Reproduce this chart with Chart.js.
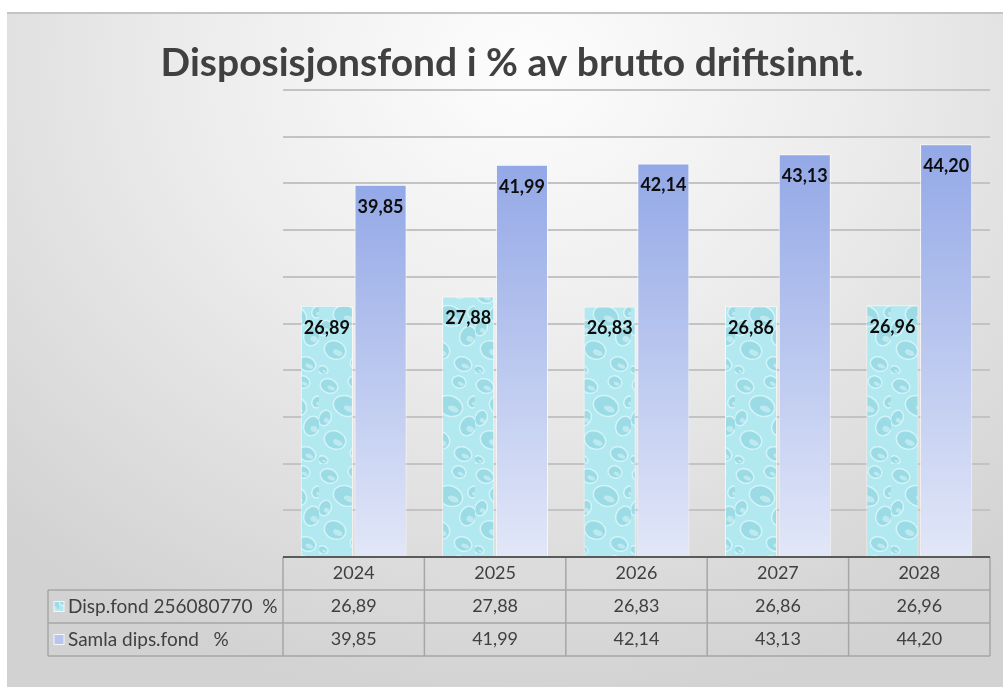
<!DOCTYPE html>
<html>
<head>
<meta charset="utf-8">
<script src="https://cdn.jsdelivr.net/npm/chart.js@4.4.0/dist/chart.umd.min.js"></script>
<style>
  html, body { margin: 0; padding: 0; background: #ffffff; }
  #wrap {
    position: absolute; left: 7px; top: 12px; width: 996px; height: 675px;
    background: radial-gradient(ellipse 75% 95% at 52% 8%, #fdfdfd 0%, #ececec 45%, #d2d2d2 100%);
    border-top: 2px solid #c4c4c4;
    box-sizing: border-box;
  }
  canvas { display: block; }
</style>
</head>
<body>
<div id="wrap"><canvas id="chart" width="996" height="673"></canvas></div>
<script>
// data
const years = ['2024', '2025', '2026', '2027', '2028'];
const dispFond = [26.89, 27.88, 26.83, 26.86, 26.96];
const samlaFond = [39.85, 41.99, 42.14, 43.13, 44.20];
const seriesNames = ['Disp.fond 256080770  %', 'Samla dips.fond   %'];
const chartTitle = 'Disposisjonsfond i % av brutto driftsinnt.';

const fmt = (v) => v.toFixed(2).replace('.', ',');

// vanndrape-mønster for første serie
const makeDropPattern = () => {
  const c = document.createElement('canvas');
  c.width = 52; c.height = 90;
  const g = c.getContext('2d');
  g.fillStyle = '#b2e8ef';
  g.fillRect(0, 0, 52, 90);
  const drops = [[10, 12, 9, 7], [36, 8, 7, 6], [27, 32, 13, 10], [6, 44, 6, 8], [45, 52, 8, 10],
                 [16, 66, 11, 9], [40, 80, 9, 7], [4, 86, 5, 4], [50, 28, 5, 6]];
  drops.forEach(([x, y, rx, ry]) => {
    g.beginPath();
    g.ellipse(x, y, rx, ry, 0.4, 0, Math.PI * 2);
    g.fillStyle = 'rgba(120, 200, 214, 0.4)';
    g.fill();
    g.lineWidth = 1.5;
    g.strokeStyle = 'rgba(235, 252, 255, 0.65)';
    g.stroke();
    g.beginPath();
    g.ellipse(x + rx * 0.25, y + ry * 0.3, rx * 0.45, ry * 0.3, 0.4, 0, Math.PI * 2);
    g.fillStyle = 'rgba(240, 255, 255, 0.4)';
    g.fill();
  });
  return c;
};

const ctx = document.getElementById('chart').getContext('2d');
const dropPattern = ctx.createPattern(makeDropPattern(), 'repeat');

// gradient per søyle for andre serie
const blueGradient = (context) => {
  const chart = context.chart;
  const area = chart.chartArea;
  if (!area) return '#a9b8ec';
  const top = chart.scales.y.getPixelForValue(context.raw);
  const grad = chart.ctx.createLinearGradient(0, top, 0, area.bottom);
  grad.addColorStop(0, '#93a8e6');
  grad.addColorStop(1, '#e2e7f8');
  return grad;
};

// tittel midtstilt over hele flaten
const titleText = {
  id: 'titleText',
  afterDraw(chart) {
    const c = chart.ctx;
    c.save();
    c.font = 'bold 39px Lato, "Open Sans", sans-serif';
    c.fillStyle = '#404040';
    c.textAlign = 'center';
    c.textBaseline = 'middle';
    c.fillText(chartTitle, 505, 49);
    c.restore();
  }
};

// verdietiketter inne i toppen av søylene
const valueLabels = {
  id: 'valueLabels',
  afterDatasetsDraw(chart) {
    const c = chart.ctx;
    c.save();
    c.font = 'bold 18px Lato, "Open Sans", sans-serif';
    c.fillStyle = '#0d0d0d';
    c.textAlign = 'center';
    c.textBaseline = 'middle';
    chart.data.datasets.forEach((ds, i) => {
      chart.getDatasetMeta(i).data.forEach((bar, j) => {
        c.fillText(fmt(ds.data[j]), bar.x, bar.y + 22);
      });
    });
    c.restore();
  }
};

// datatabell under grafen
const dataTable = {
  id: 'dataTable',
  afterDraw(chart) {
    const c = chart.ctx;
    const x = chart.scales.x;
    const area = chart.chartArea;
    const colW = x.width / years.length;
    const rowH = 33;
    const top = area.bottom;
    const labelLeft = 41;
    c.save();
    c.strokeStyle = '#a6a6a6';
    c.lineWidth = 1.5;
    for (let r = 1; r <= 3; r++) {
      c.beginPath();
      c.moveTo(labelLeft, top + r * rowH);
      c.lineTo(area.right, top + r * rowH);
      c.stroke();
    }
    for (let i = 0; i <= years.length; i++) {
      const lx = area.left + i * colW;
      c.beginPath();
      c.moveTo(lx, top);
      c.lineTo(lx, top + 3 * rowH);
      c.stroke();
    }
    c.beginPath();
    c.moveTo(labelLeft, top + rowH);
    c.lineTo(labelLeft, top + 3 * rowH);
    c.stroke();
    // akselinje
    c.strokeStyle = '#5a5a5a';
    c.lineWidth = 2;
    c.beginPath();
    c.moveTo(area.left, top);
    c.lineTo(area.right, top);
    c.stroke();

    c.font = '18px Lato, "Open Sans", sans-serif';
    c.fillStyle = '#404040';
    c.textBaseline = 'middle';
    c.textAlign = 'center';
    years.forEach((yr, i) => {
      const cx = x.getPixelForValue(i);
      c.fillText(yr, cx, top + rowH / 2);
      c.fillText(fmt(dispFond[i]), cx, top + rowH * 1.5);
      c.fillText(fmt(samlaFond[i]), cx, top + rowH * 2.5);
    });
    c.textAlign = 'left';
    c.font = '19px Lato, "Open Sans", sans-serif';
    const keys = [dropPattern, '#b9c5f0'];
    seriesNames.forEach((name, r) => {
      const cy = top + rowH * (r + 1.5);
      c.fillStyle = keys[r];
      c.fillRect(labelLeft + 6, cy - 5, 10, 10);
      c.strokeStyle = 'rgba(255,255,255,0.8)';
      c.lineWidth = 1;
      c.strokeRect(labelLeft + 6, cy - 5, 10, 10);
      c.fillStyle = '#404040';
      c.fillText(name, labelLeft + 20, cy);
    });
    c.restore();
  }
};

new Chart(ctx, {
  type: 'bar',
  data: {
    labels: years,
    datasets: [
      {
        label: seriesNames[0],
        data: dispFond,
        backgroundColor: dropPattern,
        borderColor: 'rgba(255,255,255,0.75)',
        borderWidth: 1,
        categoryPercentage: 0.76,
        barPercentage: 0.97,
      },
      {
        label: seriesNames[1],
        data: samlaFond,
        backgroundColor: blueGradient,
        borderColor: 'rgba(255,255,255,0.75)',
        borderWidth: 1,
        categoryPercentage: 0.76,
        barPercentage: 0.97,
      },
    ],
  },
  options: {
    responsive: false,
    animation: false,
    layout: { padding: { left: 276, right: 13, top: 76, bottom: 130 } },
    plugins: {
      legend: { display: false },
      tooltip: { enabled: false },
      title: { display: false },
    },
    scales: {
      x: { display: false },
      y: {
        min: 0,
        max: 50,
        ticks: { display: false, stepSize: 5 },
        border: { display: false },
        grid: {
          color: (c) => (c.tick.value === 0 ? 'rgba(0,0,0,0)' : '#c3c3c3'),
          lineWidth: 2,
          drawTicks: false,
        },
      },
    },
  },
  plugins: [valueLabels, dataTable, titleText],
});
</script>
</body>
</html>
